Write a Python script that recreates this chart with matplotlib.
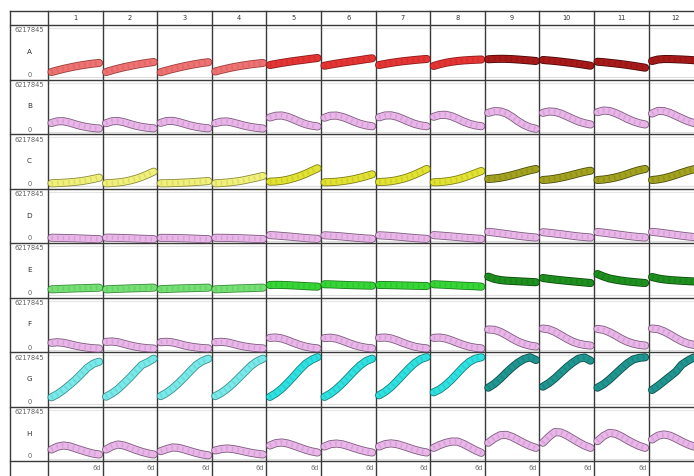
import matplotlib
matplotlib.use("Agg")
import matplotlib.pyplot as plt
import matplotlib.patheffects as pe

# ---------------- data (values in millions) ----------------
YMAX_LABEL = "6217845"
YMAX = 6.217845
ROWS = ["A", "B", "C", "D", "E", "F", "G", "H"]
COLS = [str(i) for i in range(1, 13)]
DAYS = [0, 0.75, 1.5, 2.25, 3, 3.75, 4.5, 5.25, 6]
END_LABEL = "6d"

row_A = [
    [0.63, 0.84, 1.03, 1.19, 1.35, 1.48, 1.60, 1.70, 1.78],
    [0.63, 0.86, 1.06, 1.24, 1.40, 1.55, 1.68, 1.80, 1.90],
    [0.60, 0.82, 1.02, 1.20, 1.37, 1.52, 1.66, 1.78, 1.88],
    [0.70, 0.90, 1.08, 1.24, 1.38, 1.50, 1.61, 1.70, 1.78],
    [1.52, 1.66, 1.79, 1.91, 2.02, 2.12, 2.22, 2.32, 2.41],
    [1.43, 1.57, 1.70, 1.82, 1.93, 2.04, 2.15, 2.27, 2.37],
    [1.52, 1.66, 1.79, 1.90, 2.00, 2.08, 2.16, 2.23, 2.29],
    [1.40, 1.62, 1.80, 1.93, 2.03, 2.10, 2.15, 2.19, 2.22],
    [2.25, 2.29, 2.31, 2.30, 2.27, 2.22, 2.16, 2.10, 2.03],
    [2.16, 2.10, 2.03, 1.95, 1.86, 1.77, 1.66, 1.55, 1.43],
    [1.94, 1.88, 1.80, 1.72, 1.63, 1.53, 1.42, 1.30, 1.18],
    [2.03, 2.22, 2.28, 2.28, 2.25, 2.22, 2.18, 2.13, 2.08],
]
row_B = [
    [1.08, 1.29, 1.31, 1.14, 0.91, 0.70, 0.55, 0.44, 0.38],
    [1.05, 1.30, 1.33, 1.18, 0.95, 0.74, 0.58, 0.47, 0.40],
    [1.10, 1.33, 1.35, 1.20, 0.98, 0.76, 0.60, 0.48, 0.40],
    [1.05, 1.25, 1.27, 1.12, 0.92, 0.72, 0.57, 0.46, 0.38],
    [1.78, 2.00, 2.03, 1.85, 1.55, 1.22, 0.93, 0.75, 0.64],
    [1.75, 2.00, 2.02, 1.85, 1.57, 1.25, 0.97, 0.78, 0.66],
    [1.80, 2.03, 2.05, 1.88, 1.58, 1.25, 0.96, 0.77, 0.66],
    [1.87, 2.10, 2.12, 1.94, 1.62, 1.27, 0.98, 0.78, 0.67],
    [2.37, 2.58, 2.55, 2.30, 1.85, 1.30, 0.85, 0.52, 0.34],
    [2.37, 2.54, 2.50, 2.28, 1.95, 1.60, 1.28, 1.05, 0.89],
    [2.45, 2.66, 2.60, 2.35, 2.00, 1.62, 1.30, 1.05, 0.89],
    [2.28, 2.62, 2.58, 2.35, 2.00, 1.65, 1.32, 1.08, 0.90],
]
row_C = [
    [0.34, 0.37, 0.41, 0.46, 0.53, 0.62, 0.74, 0.89, 1.06],
    [0.34, 0.38, 0.45, 0.55, 0.70, 0.90, 1.16, 1.48, 1.82],
    [0.34, 0.35, 0.37, 0.40, 0.43, 0.47, 0.52, 0.57, 0.63],
    [0.34, 0.38, 0.44, 0.52, 0.62, 0.76, 0.92, 1.09, 1.27],
    [0.55, 0.58, 0.66, 0.80, 1.00, 1.25, 1.55, 1.90, 2.24],
    [0.47, 0.49, 0.54, 0.62, 0.73, 0.87, 1.05, 1.26, 1.48],
    [0.51, 0.54, 0.61, 0.74, 0.92, 1.16, 1.46, 1.80, 2.16],
    [0.47, 0.50, 0.57, 0.68, 0.84, 1.06, 1.33, 1.62, 1.90],
    [0.89, 0.95, 1.05, 1.20, 1.38, 1.58, 1.80, 2.00, 2.16],
    [0.76, 0.82, 0.92, 1.06, 1.23, 1.42, 1.62, 1.80, 1.94],
    [0.76, 0.82, 0.93, 1.08, 1.28, 1.52, 1.78, 2.00, 2.16],
    [0.76, 0.84, 0.98, 1.18, 1.42, 1.68, 1.92, 2.12, 2.28],
]
row_D = [
    [0.35, 0.34, 0.32, 0.30, 0.28, 0.25, 0.22, 0.19, 0.17],
    [0.36, 0.35, 0.33, 0.31, 0.28, 0.25, 0.22, 0.19, 0.17],
    [0.34, 0.33, 0.32, 0.30, 0.28, 0.25, 0.22, 0.19, 0.17],
    [0.35, 0.34, 0.33, 0.31, 0.29, 0.26, 0.23, 0.20, 0.18],
    [0.68, 0.64, 0.58, 0.52, 0.45, 0.38, 0.31, 0.25, 0.21],
    [0.66, 0.62, 0.57, 0.51, 0.44, 0.37, 0.31, 0.25, 0.21],
    [0.66, 0.62, 0.57, 0.51, 0.44, 0.37, 0.31, 0.25, 0.21],
    [0.68, 0.63, 0.57, 0.51, 0.44, 0.37, 0.31, 0.25, 0.21],
    [1.10, 1.02, 0.92, 0.82, 0.71, 0.61, 0.52, 0.44, 0.38],
    [1.05, 0.98, 0.89, 0.80, 0.70, 0.60, 0.51, 0.44, 0.38],
    [1.08, 1.00, 0.90, 0.80, 0.70, 0.60, 0.51, 0.44, 0.38],
    [1.10, 1.02, 0.92, 0.82, 0.71, 0.61, 0.52, 0.44, 0.38],
]
row_E = [
    [0.72, 0.75, 0.78, 0.81, 0.84, 0.86, 0.88, 0.91, 0.93],
    [0.72, 0.75, 0.78, 0.81, 0.84, 0.86, 0.88, 0.91, 0.93],
    [0.74, 0.77, 0.80, 0.83, 0.85, 0.87, 0.89, 0.91, 0.93],
    [0.72, 0.75, 0.78, 0.81, 0.84, 0.86, 0.88, 0.91, 0.93],
    [1.27, 1.29, 1.28, 1.25, 1.21, 1.17, 1.13, 1.09, 1.06],
    [1.36, 1.35, 1.32, 1.29, 1.26, 1.24, 1.22, 1.20, 1.18],
    [1.27, 1.27, 1.25, 1.23, 1.21, 1.19, 1.17, 1.15, 1.14],
    [1.36, 1.33, 1.29, 1.25, 1.21, 1.17, 1.14, 1.11, 1.06],
    [2.33, 2.05, 1.90, 1.82, 1.78, 1.74, 1.70, 1.66, 1.62],
    [2.16, 2.05, 1.96, 1.88, 1.80, 1.73, 1.66, 1.59, 1.52],
    [2.66, 2.35, 2.10, 1.95, 1.83, 1.73, 1.65, 1.58, 1.52],
    [2.28, 2.10, 1.98, 1.90, 1.85, 1.80, 1.76, 1.72, 1.68],
]
row_F = [
    [0.85, 0.92, 0.85, 0.68, 0.50, 0.35, 0.24, 0.16, 0.12],
    [0.97, 1.02, 0.92, 0.72, 0.52, 0.36, 0.24, 0.16, 0.12],
    [0.92, 0.98, 0.90, 0.72, 0.52, 0.37, 0.26, 0.18, 0.14],
    [0.92, 0.98, 0.90, 0.72, 0.52, 0.37, 0.26, 0.18, 0.14],
    [1.48, 1.52, 1.40, 1.15, 0.85, 0.58, 0.36, 0.22, 0.14],
    [1.45, 1.50, 1.38, 1.13, 0.84, 0.57, 0.36, 0.22, 0.14],
    [1.48, 1.52, 1.40, 1.15, 0.85, 0.58, 0.36, 0.22, 0.14],
    [1.48, 1.52, 1.40, 1.15, 0.85, 0.58, 0.36, 0.22, 0.14],
    [2.54, 2.50, 2.25, 1.85, 1.40, 1.00, 0.70, 0.50, 0.38],
    [2.66, 2.55, 2.25, 1.82, 1.38, 1.00, 0.74, 0.58, 0.50],
    [2.62, 2.50, 2.20, 1.80, 1.36, 1.00, 0.75, 0.58, 0.50],
    [2.66, 2.58, 2.30, 1.90, 1.45, 1.05, 0.76, 0.58, 0.50],
]
row_G = [
    [0.85, 1.25, 1.78, 2.40, 3.05, 3.80, 4.57, 5.10, 5.37],
    [0.93, 1.35, 1.90, 2.60, 3.35, 4.15, 4.95, 5.30, 5.75],
    [1.00, 1.42, 1.98, 2.65, 3.40, 4.20, 4.95, 5.45, 5.75],
    [1.00, 1.40, 1.95, 2.60, 3.35, 4.10, 4.85, 5.40, 5.75],
    [0.90, 1.35, 1.95, 2.70, 3.50, 4.35, 5.10, 5.60, 5.95],
    [0.90, 1.32, 1.90, 2.60, 3.38, 4.18, 4.90, 5.45, 5.75],
    [1.10, 1.55, 2.15, 2.90, 3.70, 4.50, 5.20, 5.70, 5.95],
    [1.48, 1.85, 2.40, 3.10, 3.90, 4.70, 5.35, 5.75, 5.93],
    [2.07, 2.55, 3.20, 3.95, 4.65, 5.25, 5.70, 5.93, 5.58],
    [2.20, 2.65, 3.25, 3.95, 4.65, 5.25, 5.75, 5.90, 5.50],
    [2.07, 2.50, 3.10, 3.80, 4.50, 5.15, 5.65, 5.85, 5.93],
    [1.78, 2.30, 2.90, 3.50, 4.10, 5.00, 5.50, 5.90, 5.95],
]
row_H = [
    [1.14, 1.50, 1.65, 1.55, 1.30, 1.05, 0.82, 0.62, 0.51],
    [1.14, 1.55, 1.78, 1.65, 1.38, 1.10, 0.85, 0.65, 0.51],
    [0.93, 1.20, 1.40, 1.35, 1.15, 0.92, 0.70, 0.52, 0.40],
    [1.02, 1.20, 1.27, 1.20, 1.05, 0.88, 0.72, 0.60, 0.51],
    [1.65, 1.95, 2.03, 1.90, 1.65, 1.38, 1.12, 0.90, 0.76],
    [1.52, 1.82, 1.90, 1.80, 1.58, 1.33, 1.10, 0.90, 0.76],
    [1.52, 1.82, 1.92, 1.82, 1.60, 1.35, 1.10, 0.90, 0.76],
    [1.35, 1.70, 1.98, 2.15, 2.15, 1.85, 1.45, 1.05, 0.72],
    [2.00, 2.55, 2.95, 3.00, 2.75, 2.35, 1.95, 1.60, 1.35],
    [2.00, 2.75, 3.35, 3.30, 2.95, 2.50, 2.05, 1.65, 1.35],
    [2.20, 2.85, 3.25, 3.15, 2.80, 2.35, 1.95, 1.60, 1.35],
    [2.41, 2.90, 3.05, 2.90, 2.55, 2.15, 1.80, 1.52, 1.35],
]
DATA = [row_A, row_B, row_C, row_D, row_E, row_F, row_G, row_H]

# colours: (fill, edge) per row, for column groups 1-4, 5-8, 9-12
PINK = ("#eab6ea", "#7a5a7a")
ROW_COLORS = [
    [("#ee7272", "#9a3a3a"), ("#e53434", "#8a1a1a"), ("#a81a1a", "#4a0808")],
    [PINK, PINK, PINK],
    [("#f0f07a", "#8a8a3a"), ("#e2e232", "#7a7a10"), ("#a2a220", "#4a4a0a")],
    [PINK, PINK, PINK],
    [("#74e074", "#3a8a3a"), ("#36d636", "#1a7a1a"), ("#1f8f1f", "#0a4a0a")],
    [PINK, PINK, PINK],
    [("#78eaea", "#3a8a8a"), ("#2ee2e2", "#157a7a"), ("#1f9690", "#0a4a48")],
    [PINK, PINK, PINK],
]

# ---------------- layout (pixels) ----------------
W, H = 694, 476
X0, XL = 10, 48          # outer left border, label column right edge
CW = 54.6                # column width
YT, YH = 11, 25          # header top, header bottom
RH = 54.5                # row height
PTOP, PBOT = 3, 52       # plot area inside a cell (from cell top)

fig = plt.figure(figsize=(W / 100, H / 100), dpi=100)
bg = fig.add_axes([0, 0, 1, 1])
bg.set_xlim(0, W)
bg.set_ylim(H, 0)
bg.axis("off")

grid_c = "#3a3a3a"
y_bottom_row = YH + 8 * RH
x_right = XL + 12 * CW

# faint gridlines in each cell
for r in range(8):
    top = YH + r * RH
    bg.plot([XL, x_right], [top + PTOP, top + PTOP], color="#e6e6e6", lw=0.8, zorder=1)
    bg.plot([XL, x_right], [top + PBOT, top + PBOT], color="#dedede", lw=0.8, zorder=1)

# horizontal borders
for y in [YT, YH] + [YH + r * RH for r in range(1, 9)]:
    bg.plot([X0, x_right], [y, y], color=grid_c, lw=1.0, zorder=2)
# vertical borders
for x in [X0, XL] + [XL + c * CW for c in range(1, 13)]:
    bg.plot([x, x], [YT, H + 2], color=grid_c, lw=1.0, zorder=2)

# header labels
for c, lab in enumerate(COLS):
    bg.text(XL + (c + 0.5) * CW, (YT + YH) / 2 + 0.5, lab, ha="center", va="center",
            fontsize=4.8, color="#303030")
# row labels
for r, lab in enumerate(ROWS):
    top = YH + r * RH
    bg.text(44, top + 5.5, YMAX_LABEL, ha="right", va="center", fontsize=4.8, color="#606060")
    bg.text(29.5, top + 27, lab, ha="center", va="center", fontsize=5.2, color="#303030")
    bg.text(29.5, top + 50, "0", ha="center", va="center", fontsize=4.8, color="#606060")
# bottom "6d" labels (the last column's label falls outside the visible area)
for c in range(12):
    xr = XL + (c + 1) * CW - 2
    if xr <= W:
        bg.text(xr, y_bottom_row + 7, END_LABEL, ha="right", va="center",
                fontsize=4.8, color="#707070")

# ---------------- cells ----------------
pad = 3.5
for r in range(8):
    top = YH + r * RH
    for c in range(12):
        left = XL + c * CW
        ax = fig.add_axes([left / W, 1 - (top + PBOT) / H, CW / W, (PBOT - PTOP) / H])
        ax.set_facecolor("none")
        ax.axis("off")
        span = DAYS[-1] - DAYS[0]
        dpp = span / (CW - 2 * pad)
        ax.set_xlim(DAYS[0] - pad * dpp, DAYS[-1] + pad * dpp)
        ax.set_ylim(0, YMAX)
        fill, edge = ROW_COLORS[r][c // 4]
        vals = DATA[r][c]
        ax.plot(DAYS, vals, color=fill, lw=4.6, solid_capstyle="round",
                solid_joinstyle="round", clip_on=False, zorder=3,
                path_effects=[pe.Stroke(linewidth=5.8, foreground=edge), pe.Normal()])
        ax.plot(DAYS, vals, color=edge, lw=3.2, alpha=0.2, dashes=(0.35, 0.9),
                clip_on=False, zorder=4)

fig.savefig("out.png", dpi=100)
